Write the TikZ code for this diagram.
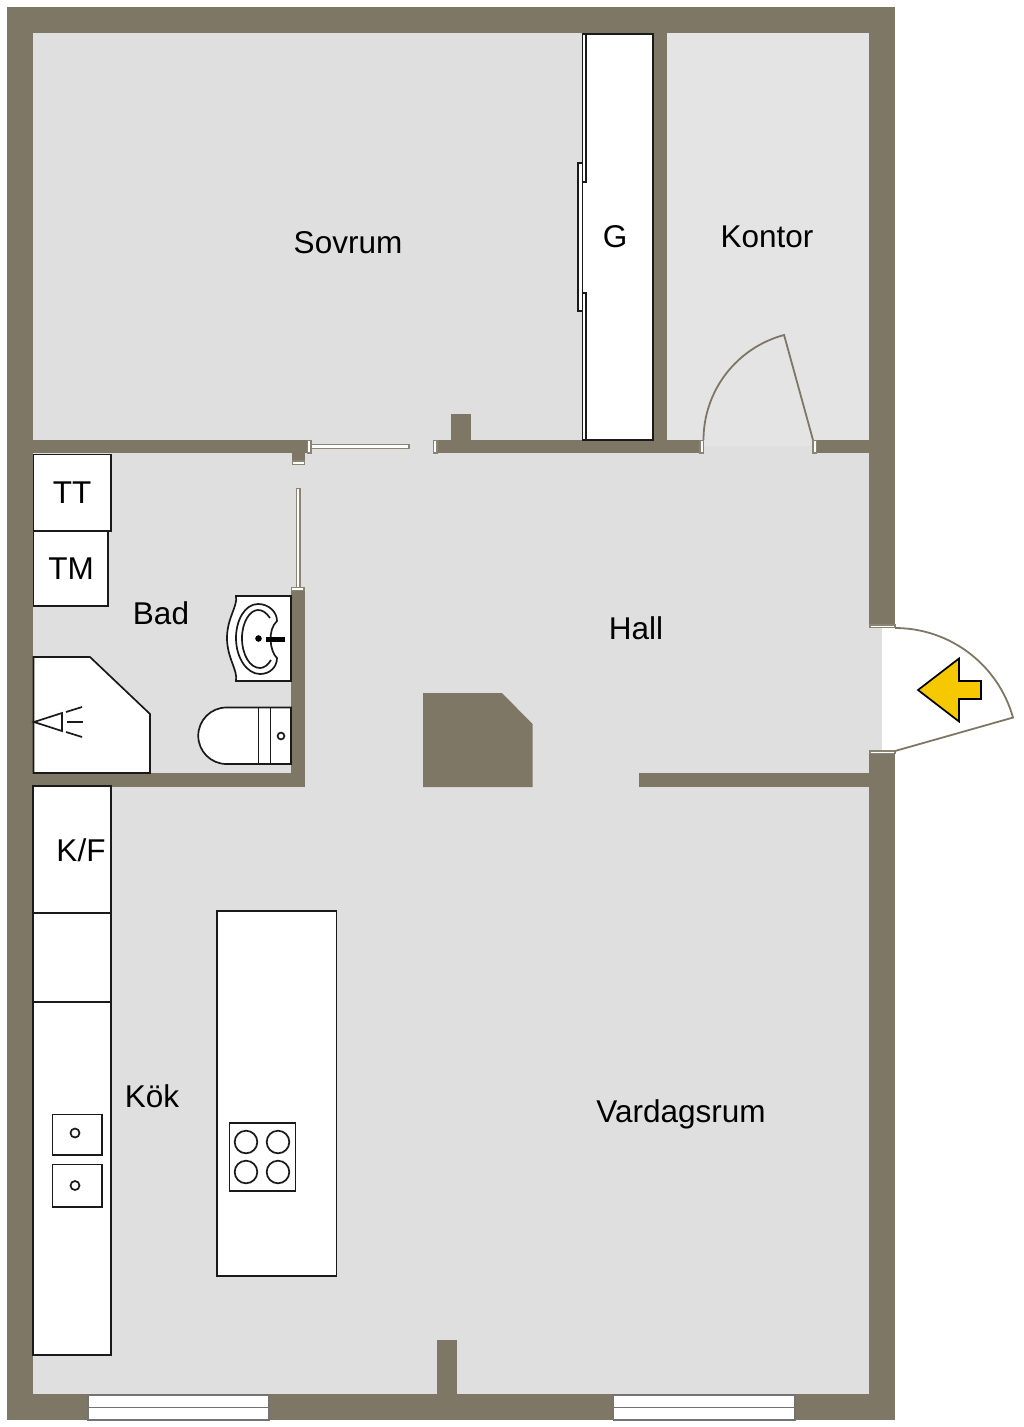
\documentclass[tikz,border=0pt]{standalone}
\usepackage{fontspec}
\setmainfont{Liberation Sans}
\definecolor{wallc}{HTML}{7F7765}
\definecolor{floorc}{HTML}{DFDFDF}
\definecolor{floorlight}{HTML}{E4E4E4}
\definecolor{jambc}{HTML}{8A8474}
\definecolor{arrowc}{HTML}{F5C800}
\definecolor{linec}{HTML}{1A1A1A}
\tikzset{
  wall/.style={fill=wallc,draw=none},
  fixture/.style={fill=white,draw=linec,line width=1.7pt,line join=miter},
  plainline/.style={draw=linec,line width=1.7pt},
  jamb/.style={fill=white,draw=jambc,line width=1.4pt},
  doorleaf/.style={draw=wallc,line width=1.8pt},
  glass/.style={fill=white,draw=gray!90!black,line width=1.6pt},
  roomlabel/.style={font=\fontsize{31.5}{31.5}\selectfont,text=black,inner sep=0pt}
}
\begin{document}
\begin{tikzpicture}[x=1pt,y=-1pt]
\useasboundingbox (0,0) rectangle (1024,1427);
\fill[white] (0,0) rectangle (1024,1427);
% floor
\fill[floorc] (20,20) rectangle (882,1400);
\fill[floorlight] (667,33) rectangle (869,446);
\fill[white] (882,600) rectangle (1024,800);
% outer walls
\fill[wall] (7,7) rectangle (895,33);
\fill[wall] (7,7) rectangle (33,1420);
\fill[wall] (7,1394) rectangle (895,1420);
\fill[wall] (869,7) rectangle (895,627);
\fill[wall] (869,752) rectangle (895,1420);
% inner walls
\fill[wall] (33,440) rectangle (309,453);
\fill[wall] (292,453) rectangle (305,465);
\fill[wall] (435,440) rectangle (702,453);
\fill[wall] (451,414) rectangle (471,440);
\fill[wall] (815,440) rectangle (869,453);
\fill[wall] (653,33) rectangle (667,440);
\fill[wall] (291,588) rectangle (304.5,787);
\fill[wall] (33,773) rectangle (304.5,787);
\fill[wall] (639,773) rectangle (869,787);
\fill[wall] (423,693) -- (502,693) -- (532.5,724) -- (532.5,787) -- (423,787) -- cycle;
\fill[wall] (437,1340) rectangle (457,1394);
% jambs and sliding doors
\draw[jamb] (307.5,440.5) rectangle (311,453);
\draw[jamb] (292.5,461) rectangle (304.5,464.5);
\draw[jamb] (311,444.5) rectangle (409,448.5);
\draw[jamb] (433.5,440.5) rectangle (437,453);
\draw[jamb] (296.5,488.5) rectangle (300,588);
\draw[jamb] (291.5,587.5) rectangle (304,590.5);
\draw[jamb] (700,440.5) rectangle (703.5,453);
\draw[jamb] (813,440.5) rectangle (816.5,453);
\draw[jamb] (870,625) rectangle (895,627.5);
\draw[jamb] (870,751) rectangle (895,753.5);
% door leaves
\draw[doorleaf] (703.5,440) arc[start angle=180,end angle=255,radius=108.7] -- (813,440);
\draw[doorleaf] (895,628) arc[start angle=-90,end angle=-15.6,radius=122.5] -- (895,751);
% entrance arrow
\draw[fill=arrowc,draw=black,line width=1.7pt,line join=miter] (918,690) -- (959,658.5) -- (959,681) -- (981,681) -- (981,699) -- (959,699) -- (959,721.5) -- cycle;
% wardrobe
\draw[fixture] (582.5,34) rectangle (653,440);
\draw[fixture] (582.5,34) rectangle (586,182);
\draw[fixture] (578,163) rectangle (582.5,311);
\draw[fixture] (582.5,293) rectangle (586,440);
% bathroom
\draw[fixture] (33.5,454.5) rectangle (111,531);
\draw[fixture] (33.5,531.5) rectangle (108,606);
\draw[fixture] (33.5,657) -- (90,657) -- (150,714) -- (150,773) -- (33.5,773) -- cycle;
\draw[plainline] (34,722) -- (62,713) -- (62,731) -- cycle;
\draw[plainline] (66,712) -- (82,707);
\draw[plainline] (67,722) -- (83,722);
\draw[plainline] (66,732) -- (82,737);
% sink
\draw[fixture] (236,596) .. controls (238,606) and (227,618) .. (227,638) .. controls (227,658) and (238,670) .. (236,681) -- (291,681) -- (291,596) -- cycle;
\draw[plainline] (277,621) .. controls (277,612) and (269,604) .. (258,604) .. controls (245,604) and (236,620) .. (236,638) .. controls (236,658) and (247,674) .. (260,674) .. controls (270,674) and (277,667) .. (277,658) .. controls (270,652) and (267,630) .. (277,621) -- cycle;
\draw[plainline] (270,618) .. controls (266,612) and (262,610) .. (258,610) .. controls (250,610) and (242,622) .. (242,638) .. controls (242,655) and (250,668) .. (260,668) .. controls (264,668) and (268,665) .. (271,660);
\fill[black] (258.5,638.5) circle[radius=3.3];
\draw[black,line width=5pt] (266,639) -- (285,639);
% toilet
\draw[fixture] (291,707.5) -- (226.5,707.5) arc[start angle=-90,end angle=-270,radius=28.25] -- (291,764) -- cycle;
\draw[plainline] (258.5,707.5) -- (258.5,764);
\draw[plainline] (270.5,707.5) -- (270.5,764);
\draw[plainline] (281,736) circle[radius=3.4];
% kitchen
\draw[fixture] (33,786) rectangle (111,913);
\draw[fixture] (33,913) rectangle (111,1002);
\draw[fixture] (33,1002) rectangle (111,1355);
\draw[fixture] (52.5,1114.5) rectangle (102,1155);
\draw[fixture] (52.5,1164.5) rectangle (102,1207);
\draw[plainline] (75,1133) circle[radius=4.5];
\draw[plainline] (75,1185.5) circle[radius=4.5];
\draw[fixture] (217,911) rectangle (336.5,1276);
\draw[fixture] (229.5,1123) rectangle (295.5,1191);
\draw[plainline] (246,1142) circle[radius=11.3];
\draw[plainline] (278,1142) circle[radius=11.3];
\draw[plainline] (246,1172) circle[radius=11.3];
\draw[plainline] (278,1172) circle[radius=11.3];
% windows
\draw[glass] (88,1395) rectangle (269,1420);
\draw[glass] (88,1407.5) -- (269,1407.5);
\draw[glass] (613.5,1395) rectangle (795,1420);
\draw[glass] (613.5,1407.5) -- (795,1407.5);
% labels
\node[roomlabel] (sovrum) at (348,243) {Sovrum};
\node[roomlabel] (g) at (615,237) {G};
\node[roomlabel] (kontor) at (767,237) {Kontor};
\node[roomlabel] (tt) at (72,493) {TT};
\node[roomlabel] (tm) at (71,569) {TM};
\node[roomlabel] (bad) at (161,613) {Bad};
\node[roomlabel] (hall) at (636,628) {Hall};
\node[roomlabel] (kf) at (81,850) {K/F};
\node[roomlabel] (kok) at (152,1096) {Kök};
\node[roomlabel] (vardagsrum) at (681,1114.5) {Vardagsrum};
\end{tikzpicture}
\end{document}
